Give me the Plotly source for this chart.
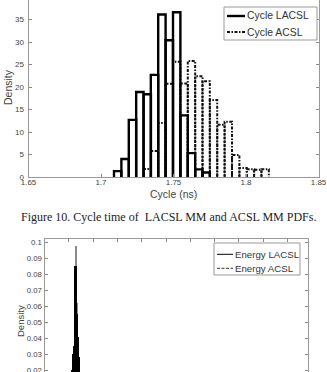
import plotly.graph_objects as go

# ---------------- data: top chart (cycle time histograms) ----------------
cycle_bin_centers = [1.7115, 1.7166, 1.7217, 1.7268, 1.7319, 1.7369, 1.7420,
                     1.7471, 1.7522, 1.7573, 1.7624, 1.7675, 1.7725, 1.7776,
                     1.7827, 1.7878, 1.7929, 1.7980, 1.8031, 1.8081, 1.8132]
cycle_bin_width = 0.005086
cycle_lacsl = [1.3, 4.0, 12.7, 18.9, 18.4, 22.7, 36.1, 30.4, 36.6, 13.7, 5.3, 1.7, 1.0]
cycle_acsl = [0, 0, 0, 0, 1.8, 5.8, 12.0, 20.7, 25.6, 20.8, 25.8, 22.4, 21.3,
              17.1, 11.6, 12.3, 4.9, 2.0, 1.7, 1.6, 1.7]
cycle_xticks = [1.65, 1.70, 1.75, 1.80, 1.85]
cycle_xticktext = ["1.65", "1.7", "1.75", "1.8", "1.85"]
cycle_yticks = [0, 5, 10, 15, 20, 25, 30, 35]

# ---------------- data: bottom chart (energy histograms) ----------------
energy_bin_centers = [1.10, 1.14, 1.18, 1.22, 1.26, 1.30, 1.34, 1.38, 1.42]
energy_bin_width = 0.04
energy_lacsl = [0.020, 0.030, 0.035, 0.085, 0.085, 0.055, 0.041, 0.028, 0.020]
energy_acsl = [0.018, 0.022, 0.030, 0.080, 0.0977, 0.062, 0.040, 0.025, 0.018]
energy_yticks = [0.02, 0.03, 0.04, 0.05, 0.06, 0.07, 0.08, 0.09, 0.10]
energy_yticktext = ["0.02", "0.03", "0.04", "0.05", "0.06", "0.07", "0.08", "0.09", "0.1"]
energy_xticks = [1, 2, 3, 4, 5, 6, 7, 8, 9, 10]

W, H = 327, 372
SANS = "Liberation Sans, Arial, sans-serif"
SERIF = "Liberation Serif, Times New Roman, serif"


def px(x):
    return x / W


def py(y):
    return 1 - y / H


def outline(centers, vals, w):
    xs, ys = [], []
    for c, v in zip(centers, vals):
        if v <= 0:
            continue
        l, r = c - w / 2, c + w / 2
        xs += [l, l, r, r, None]
        ys += [0, v, v, 0, None]
    return xs, ys


fig = go.Figure()

ax, ay = outline(cycle_bin_centers, cycle_acsl, cycle_bin_width)
fig.add_trace(go.Scatter(x=ax, y=ay, mode="lines", xaxis="x", yaxis="y",
                         line=dict(color="#111", width=2, dash="3px,1.5px,1.5px,1.5px"),
                         showlegend=False, hoverinfo="skip"))
lx, ly = outline(cycle_bin_centers[:len(cycle_lacsl)], cycle_lacsl, cycle_bin_width)
fig.add_trace(go.Scatter(x=lx, y=ly, mode="lines", xaxis="x", yaxis="y",
                         line=dict(color="#000", width=2.4),
                         showlegend=False, hoverinfo="skip"))

fig.add_trace(go.Bar(x=energy_bin_centers, y=energy_acsl, width=energy_bin_width,
                     marker=dict(color="#8a8a8a", line=dict(width=0)),
                     xaxis="x2", yaxis="y2", showlegend=False, hoverinfo="skip"))
fig.add_trace(go.Bar(x=energy_bin_centers, y=energy_lacsl, width=energy_bin_width,
                     marker=dict(color="#000", line=dict(width=0)),
                     xaxis="x2", yaxis="y2", showlegend=False, hoverinfo="skip"))

axis_common = dict(showgrid=False, zeroline=False, showline=True, linecolor="#999",
                   linewidth=1, ticks="inside", ticklen=3, tickcolor="#888", tickwidth=1,
                   automargin=False, ticklabeloverflow="allow")

fig.update_layout(
    template="none",
    width=W, height=H, margin=dict(l=0, r=0, t=0, b=0, pad=0),
    paper_bgcolor="white", plot_bgcolor="white", barmode="overlay", bargap=0,
    showlegend=False,
    xaxis=dict(domain=[px(28.5), px(318.5)], range=[1.65, 1.85], anchor="y",
               tickvals=cycle_xticks, ticktext=cycle_xticktext, ticklabelstandoff=-3,
               tickfont=dict(family=SANS, size=8, color="#444"), **axis_common),
    yaxis=dict(domain=[py(177), 1], range=[0, 177 / 4.5], anchor="x",
               tickvals=cycle_yticks, mirror="ticks", ticklabelstandoff=2,
               tickfont=dict(family=SANS, size=8, color="#444"), **axis_common),
    xaxis2=dict(domain=[px(44.5), px(308)], range=[0, 10.84], anchor="y2", side="top",
                tickvals=energy_xticks, showticklabels=False, **axis_common),
    yaxis2=dict(domain=[0, py(239)], range=[0.102 - 133 / 1600, 0.102], anchor="x2",
                tickvals=energy_yticks, ticktext=energy_yticktext, mirror="ticks",
                tickfont=dict(family=SANS, size=7.8, color="#444"), **axis_common),
)


def note(x, y, text, size, family=SANS, color="#444", angle=0, xanchor="center"):
    return dict(x=px(x), y=py(y), xref="paper", yref="paper", text=text, textangle=angle,
                xanchor=xanchor, yanchor="middle", showarrow=False,
                font=dict(family=family, size=size, color=color))


ann = [
    note(8, 87, "Density", 10.5, angle=-90),
    note(173, 193.5, "Cycle (ns)", 10.5),
    note(168, 217, "Figure 10. Cycle time of&nbsp; LACSL MM and ACSL MM PDFs.", 12,
         family=SERIF, color="#222"),
    note(20, 321, "Density", 9.5, angle=-90),
    note(245, 16, "Cycle LACSL", 10.4, color="#333", xanchor="left"),
    note(245, 32, "Cycle ACSL", 10.4, color="#333", xanchor="left"),
    note(233, 254.3, "Energy LACSL", 9.7, color="#333", xanchor="left"),
    note(233, 268.3, "Energy ACSL", 9.7, color="#333", xanchor="left"),
]
fig.update_layout(annotations=ann)

shapes = [
    dict(type="rect", xref="paper", yref="paper", x0=px(224), x1=px(317), y0=py(40), y1=py(7),
         line=dict(color="#999", width=1), fillcolor="white", layer="above"),
    dict(type="line", xref="paper", yref="paper", x0=px(227), x1=px(245), y0=py(16), y1=py(16),
         line=dict(color="#000", width=2.4), layer="above"),
    dict(type="line", xref="paper", yref="paper", x0=px(227), x1=px(245), y0=py(32), y1=py(32),
         line=dict(color="#111", width=2, dash="3px,1.5px,1.5px,1.5px"), layer="above"),
    dict(type="rect", xref="paper", yref="paper", x0=px(214), x1=px(300), y0=py(275), y1=py(243),
         line=dict(color="#999", width=1), fillcolor="white", layer="above"),
    dict(type="line", xref="paper", yref="paper", x0=px(217), x1=px(233), y0=py(254.3), y1=py(254.3),
         line=dict(color="#000", width=1), layer="above"),
    dict(type="line", xref="paper", yref="paper", x0=px(217), x1=px(233), y0=py(268.3), y1=py(268.3),
         line=dict(color="#333", width=1, dash="3px,1.5px"), layer="above"),
]
fig.update_layout(shapes=shapes)

fig.write_html("out.html")
